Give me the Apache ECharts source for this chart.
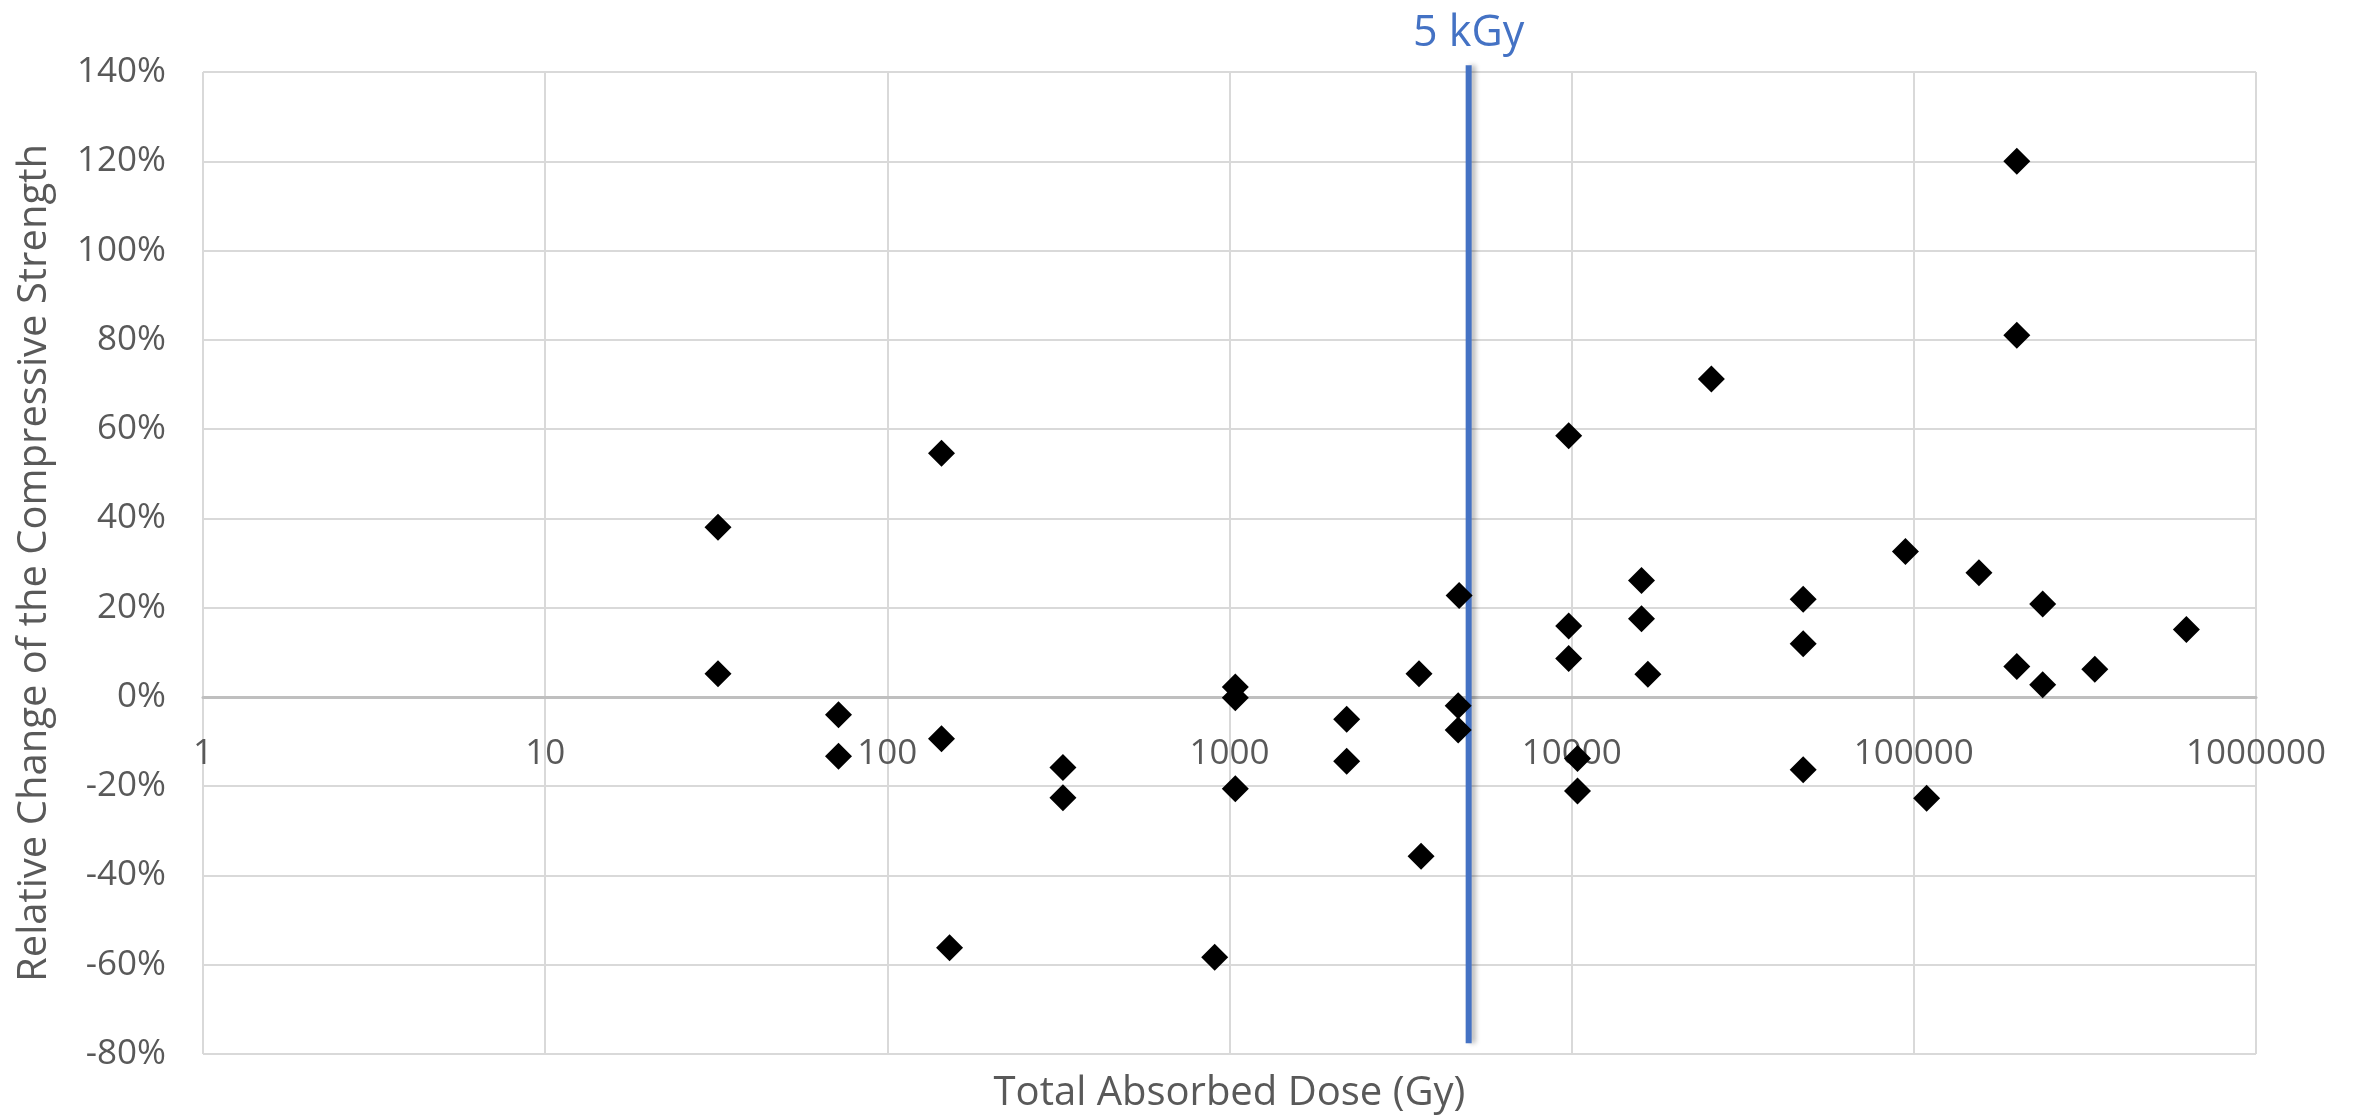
<!DOCTYPE html>
<html>
<head>
<meta charset="utf-8">
<script src="https://cdn.jsdelivr.net/npm/echarts@6/dist/echarts.min.js"></script>
<style>
  html, body { margin: 0; padding: 0; background: #ffffff; }
  #chart { width: 2361px; height: 1118px; }
</style>
</head>
<body>
<div id="chart"></div>
<script>
// Total absorbed dose (Gy) of each test specimen group
const dose = [
  32, 32, 72, 72, 144, 144, 152, 326, 326, 905,
  1040, 1040, 1040, 2200, 2200, 3580, 3630, 4690, 4660, 4660,
  9800, 9800, 9800, 10400, 10400, 16000, 16000, 16700, 25600,
  47500, 47500, 47500, 94500, 109000, 155000,
  200000, 200000, 200000, 238000, 238000, 338000, 626000
];
// Relative change of the compressive strength (%)
const strengthChange = [
  38, 5.2, -4, -13.3, 54.6, -9.4, -56.2, -15.8, -22.6, -58.3,
  2.2, -0.2, -20.6, -5, -14.4, 5.2, -35.7, 22.7, -2, -7.4,
  58.5, 15.9, 8.6, -13.8, -21.1, 26.1, 17.5, 5.1, 71.2,
  21.9, 11.9, -16.3, 32.6, -22.7, 27.8,
  120, 81, 6.8, 20.8, 2.7, 6.2, 15.1
];
// Reference dose line
const thresholdDose = 5000;
const thresholdSpan = [-77.6, 141.5];
const thresholdLabel = '5 kGy';

// Axis ticks
const xTicks = [1, 10, 100, 1000, 10000, 100000, 1000000];
const yRange = [-80, 140];
const yStep = 20;

const xAxisTitle = 'Total Absorbed Dose (Gy)';
const yAxisTitle = 'Relative Change of the Compressive Strength';

const points = dose.map((d, i) => [d, strengthChange[i]]);

const FONT = '"Open Sans", sans-serif';
const TEXT_GREY = '#595959';
const GRID_GREY = '#d9d9d9';

const logAxisBase = {
  type: 'log',
  logBase: 10,
  min: xTicks[0],
  max: xTicks[xTicks.length - 1],
  splitNumber: xTicks.length - 1
};

const chart = echarts.init(document.getElementById('chart'), null, { renderer: 'canvas' });

chart.setOption({
  backgroundColor: '#ffffff',
  animation: false,
  grid: {
    left: 203, right: 105, top: 72, bottom: 64,
    containLabel: false, outerBoundsMode: 'none'
  },
  xAxis: [
    Object.assign({}, logAxisBase, {
      // zero line and vertical decade grid
      axisLine: { show: true, onZero: true, lineStyle: { color: '#bfbfbf', width: 3 } },
      axisTick: { show: false },
      axisLabel: { show: false },
      splitLine: { show: true, lineStyle: { color: GRID_GREY, width: 2 } }
    }),
    Object.assign({}, logAxisBase, {
      // horizontal axis title under the plot
      position: 'bottom',
      name: xAxisTitle,
      nameLocation: 'middle',
      nameGap: 20,
      nameTextStyle: { color: TEXT_GREY, fontFamily: FONT, fontSize: 40, verticalAlign: 'top' },
      axisLine: { show: false, onZero: false },
      axisTick: { show: false },
      axisLabel: { show: false },
      splitLine: { show: false }
    }),
    Object.assign({}, logAxisBase, {
      // decade labels, shifted up to sit under the zero line
      position: 'bottom',
      offset: 0,
      axisLine: { show: false, onZero: false },
      axisTick: { show: false },
      axisLabel: {
        color: TEXT_GREY, fontFamily: FONT, fontSize: 35, margin: 40,
        formatter: v => String(Math.round(v))
      },
      splitLine: { show: false }
    })
  ],
  yAxis: {
    type: 'value',
    min: yRange[0],
    max: yRange[1],
    interval: yStep,
    name: yAxisTitle,
    nameLocation: 'middle',
    nameGap: 148,
    nameTextStyle: { color: TEXT_GREY, fontFamily: FONT, fontSize: 40 },
    axisLine: { show: false },
    axisTick: { show: false },
    axisLabel: {
      color: TEXT_GREY, fontFamily: FONT, fontSize: 35, margin: 37,
      formatter: v => v + '%'
    },
    splitLine: { show: true, lineStyle: { color: GRID_GREY, width: 2 } }
  },
  series: [
    {
      type: 'line',
      xAxisIndex: 0,
      clip: false,
      symbol: 'circle',
      symbolSize: 1,
      showSymbol: true,
      itemStyle: { color: 'transparent' },
      lineStyle: {
        color: '#4472C4', width: 6,
        shadowColor: 'rgba(0,0,0,0.28)', shadowBlur: 5, shadowOffsetX: 4
      },
      z: 3,
      data: [
        [thresholdDose, thresholdSpan[0]],
        {
          value: [thresholdDose, thresholdSpan[1]],
          label: {
            show: true, position: 'top', distance: 10,
            formatter: thresholdLabel,
            color: '#4472C4', fontFamily: FONT, fontSize: 43
          }
        }
      ]
    },
    {
      type: 'scatter',
      xAxisIndex: 0,
      symbol: 'diamond',
      symbolSize: 27,
      itemStyle: { color: '#000000', opacity: 1 },
      z: 4,
      data: points
    }
  ]
});

// Move the decade labels up to the zero line of the value axis
const zeroY = chart.convertToPixel({ yAxisIndex: 0 }, 0);
const bottomY = chart.convertToPixel({ yAxisIndex: 0 }, yRange[0]);
chart.setOption({ xAxis: [{}, {}, { offset: -(bottomY - zeroY) }] });
</script>
</body>
</html>
